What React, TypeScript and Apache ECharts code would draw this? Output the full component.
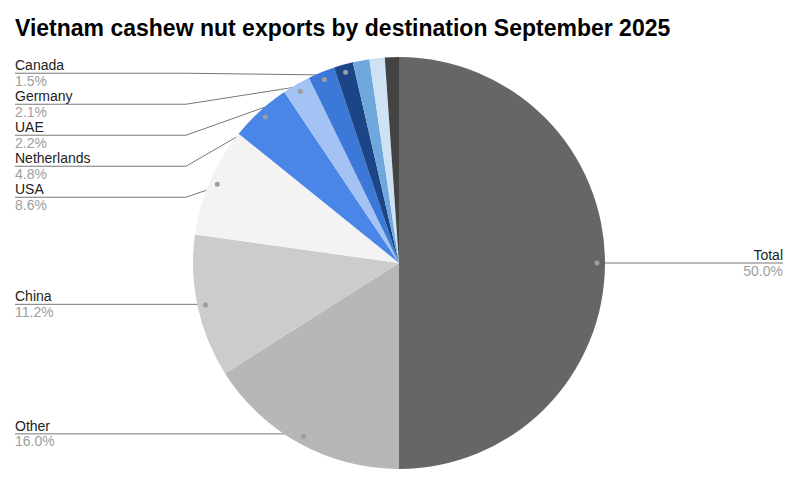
import React, { useEffect, useRef } from 'react';
import * as echarts from 'echarts';

const titleText = 'Vietnam cashew nut exports by destination September 2025';
const categories = ['Total', 'Other', 'China', 'USA', 'Netherlands', 'UAE', 'Germany', 'Canada', 'Unlabeled 1', 'Unlabeled 2', 'Unlabeled 3'];
const values = [50, 16, 11.2, 8.6, 4.8, 2.2, 2.1, 1.5, 1.3, 1.2, 1.1];
const sliceColors = ['#666666', '#b7b7b7', '#cccccc', '#f3f3f3', '#4a86e8', '#a4c2f4', '#3c78d8', '#1c4587', '#6fa8dc', '#cfe2f3', '#434343'];
const showLabel = [true, true, true, true, true, true, true, true, false, false, false];

const W = 807;
const H = 491;
const CX = 399;
const CY = 263;
const R = 206;
const DOT_R = 195;
const LEFT_X = 15;
const RIGHT_X = 783;
const ELBOW = 171;
const STEP = 31;
const FONT = '"Liberation Sans", Arial, sans-serif';

function computeLayout() {
  const sum = values.reduce((a, b) => a + b, 0);
  let cum = 0;
  const dots = values.map((v) => {
    const mid = ((cum + v / 2) / sum) * Math.PI * 2;
    cum += v;
    return [CX + DOT_R * Math.sin(mid), CY - DOT_R * Math.cos(mid)];
  });
  const lineY: number[] = dots.map((d) => d[1]);
  const left = dots
    .map((d, i) => ({ i, d }))
    .filter((o) => showLabel[o.i] && o.d[0] < CX)
    .sort((a, b) => a.d[1] - b.d[1]);
  let prev = -Infinity;
  left.forEach((o, k) => {
    const y = k === 0 ? o.d[1] - 2 : Math.max(o.d[1], prev + STEP);
    lineY[o.i] = y;
    prev = y;
  });
  return { dots, lineY };
}

export default function App() {
  const ref = useRef<HTMLDivElement>(null);
  useEffect(() => {
    if (!ref.current) return;
    const chart = echarts.init(ref.current, null, { renderer: 'svg' });
    const { dots, lineY } = computeLayout();
    const data = categories.map((name, i) => ({
      name,
      value: values[i],
      itemStyle: { color: sliceColors[i] },
      label: { show: showLabel[i] },
      labelLine: { show: showLabel[i] },
    }));
    const dotData = categories.map((name, i) => ({
      name,
      value: values[i],
      label: { show: showLabel[i] },
    }));
    chart.setOption({
      animation: false,
      title: {
        text: titleText,
        left: 15,
        top: 16,
        padding: 0,
        textStyle: { fontFamily: FONT, fontSize: 23, fontWeight: 'bold', color: '#000' },
      },
      series: [
        {
          type: 'pie',
          center: [CX, CY],
          radius: [0, R],
          startAngle: 90,
          clockwise: true,
          avoidLabelOverlap: false,
          itemStyle: { borderWidth: 0 },
          emphasis: { disabled: true },
          label: {
            show: true,
            position: 'outer',
            formatter: (p: any) => `{n|${p.name}}\n{p|${Number(p.percent).toFixed(1)}%}`,
            rich: {
              n: { fontFamily: FONT, fontSize: 14, color: '#222222', lineHeight: 15, padding: [0, 0, 1, 0] },
              p: { fontFamily: FONT, fontSize: 14, color: '#9e9e9e', lineHeight: 15 },
            },
          },
          labelLine: { show: true, smooth: false, lineStyle: { color: '#777777', width: 1 } },
          labelLayout: (params: any) => {
            const i = params.dataIndex;
            const d = dots[i];
            const y = lineY[i];
            if (d[0] >= CX) {
              return {
                x: RIGHT_X,
                y,
                align: 'right',
                verticalAlign: 'middle',
                labelLinePoints: [[d[0], d[1]], [Math.max(d[0], RIGHT_X - ELBOW), y], [RIGHT_X, y]],
              };
            }
            return {
              x: LEFT_X,
              y,
              align: 'left',
              verticalAlign: 'middle',
              labelLinePoints: [[d[0], d[1]], [Math.min(d[0], LEFT_X + ELBOW), y], [LEFT_X, y]],
            };
          },
          data,
        },
        {
          type: 'pie',
          center: [CX, CY],
          radius: [2 * DOT_R - R, R],
          startAngle: 90,
          clockwise: true,
          silent: true,
          z: 5,
          itemStyle: { color: 'rgba(0,0,0,0)', borderWidth: 0 },
          label: {
            show: true,
            position: 'inside',
            formatter: ' ',
            fontSize: 1,
            width: 5,
            height: 5,
            padding: 0,
            borderRadius: 2.5,
            backgroundColor: '#9e9e9e',
          },
          labelLine: { show: false },
          data: dotData,
        },
      ],
    });
    return () => chart.dispose();
  }, []);
  return <div ref={ref} style={{ position: 'absolute', left: 0, top: 0, width: W, height: H, background: '#fff' }} />;
}
